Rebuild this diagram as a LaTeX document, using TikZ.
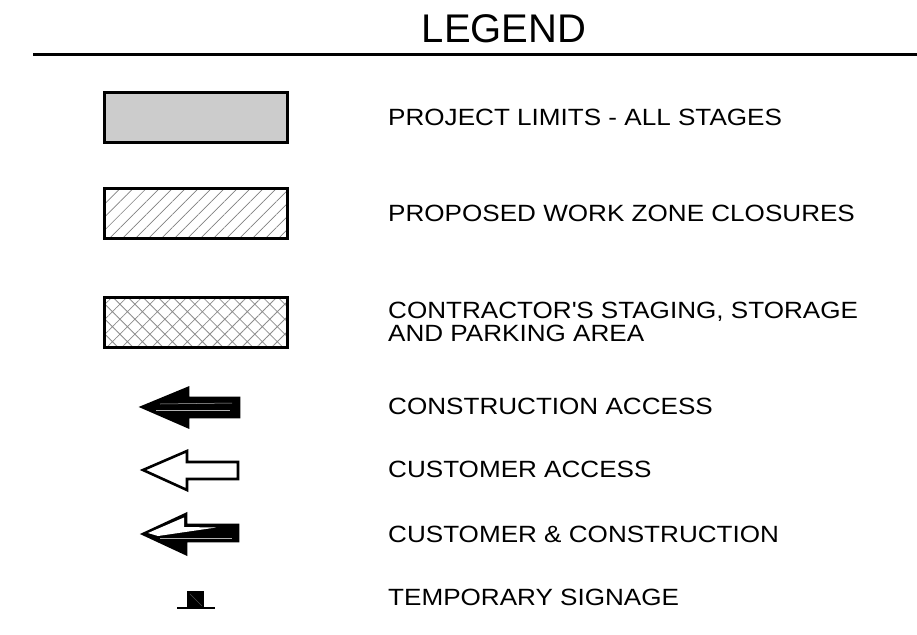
\documentclass[tikz,border=0pt]{standalone}
\usepackage{fontspec}
\setmainfont{Liberation Sans}
\newfontfamily\legfont[FakeStretch=1.11]{Liberation Sans}
\usetikzlibrary{patterns.meta, positioning}

\begin{document}
\begin{tikzpicture}[
    x=1pt, y=-1pt,
    swatch/.style={
        rectangle, draw=black, line width=3.2pt,
        minimum width=183pt, minimum height=50pt,
        inner sep=0pt, outer sep=0pt
    },
    legtext/.style={
        anchor=base west, inner sep=0pt,
        font=\legfont\fontsize{23.5}{23}\selectfont, align=left
    },
    arrowshape/.style={
        draw=black, line width=2.6pt, line join=miter
    }
]
\useasboundingbox (0,0) rectangle (917,634);

% Title and rule
\node[anchor=base, inner sep=0pt, font=\fontsize{40}{40}\selectfont] (title) at (504,42) {LEGEND};
\coordinate (ruleL) at (33,55);
\coordinate (ruleR) at (917,55);
\draw[line width=3pt] (ruleL) -- (ruleR);

% Area swatches
\node[swatch, fill=black!20] (limits) at (196,117.5) {};
\node[swatch, pattern={Lines[angle=45, distance=9.2pt, line width=0.7pt]}, pattern color=gray] (closure) at (196,213.5) {};
\node[swatch, pattern={Hatch[angle=45, distance=10.6pt, line width=0.8pt]}, pattern color=black!45] (staging) at (196,322.5) {};

% Access arrows
\fill[arrowshape, fill=black] (142,407) -- (188,388) -- (188,398) -- (239,398) -- (239,417) -- (188,417) -- (188,427) -- cycle;
\draw[white!70!black, line width=0.5pt] (160,404) -- (232,403);
\draw[white!70!black, line width=0.5pt] (156,410) -- (230,410);
\draw[arrowshape, fill=white] (143,470) -- (187,451) -- (187,462) -- (238,462) -- (238,479) -- (187,479) -- (187,490) -- cycle;
\draw[arrowshape, fill=black] (143,534) -- (186,514) -- (186,525) -- (238,525) -- (238,541) -- (186,541) -- (186,554) -- cycle;
\fill[white] (148,533) -- (184,517.5) -- (184,527) -- (216,527.5) -- (158,536) -- cycle;
\draw[white!70!black, line width=0.5pt] (160,538) -- (232,538);

% Signage
\coordinate (signL) at (177,608);
\coordinate (signR) at (215,608);
\fill (187,591) rectangle (204,608);
\draw[white!30!black, line width=0.5pt] (190,594) -- (202,606);
\draw[line width=2pt] (signL) -- (signR);

% Legend texts
\node[legtext] (tlimits) at (388,125) {PROJECT LIMITS - ALL STAGES};
\node[legtext] (tclosure) at (388,221) {PROPOSED WORK ZONE CLOSURES};
\node[legtext] (tstaging) at (388,318) {CONTRACTOR\textquotesingle S STAGING, STORAGE};
\node[legtext] (tstaging2) at (388,341) {AND PARKING AREA};
\node[legtext] (tconst) at (388,414) {CONSTRUCTION ACCESS};
\node[legtext] (tcust) at (388,477) {CUSTOMER ACCESS};
\node[legtext] (tboth) at (388,542) {CUSTOMER \& CONSTRUCTION};
\node[legtext] (tsign) at (388,605) {TEMPORARY SIGNAGE};

\end{tikzpicture}
\end{document}
